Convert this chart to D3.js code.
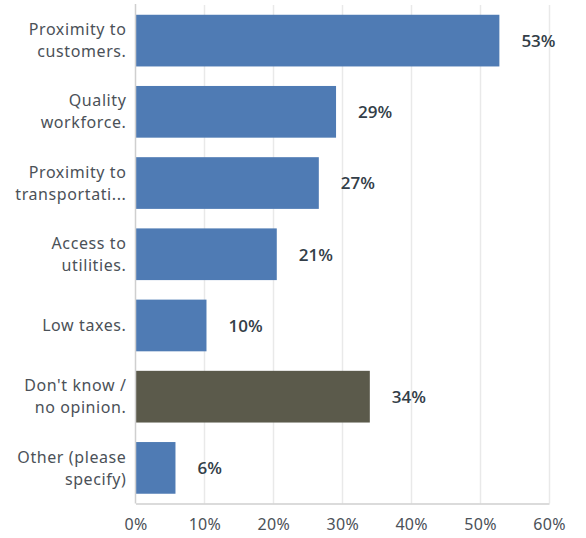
<!DOCTYPE html>
<html>
<head>
<meta charset="utf-8">
<script src="https://cdn.jsdelivr.net/npm/d3@7"></script>
<style>
  body { margin: 0; background: #fff; }
  svg { display: block; }
  .cat { font-family: "Noto Sans", sans-serif; font-size: 16px; letter-spacing: 0.6px; fill: #4b5158; }
  .val { font-family: "Open Sans", sans-serif; font-size: 17px; font-weight: 600; fill: #333e48; }
  .x.axis text { font-family: "Noto Sans", sans-serif; font-size: 16px; letter-spacing: 0.3px; fill: #4b5158; }
</style>
</head>
<body>
<svg class="chart"></svg>
<script>
// answer choices, already wrapped the way the survey tool shows them
var categoryLines = [
	["Proximity to", "customers."],
	["Quality", "workforce."],
	["Proximity to", "transportati..."],
	["Access to", "utilities."],
	["Low taxes."],
	["Don't know /", "no opinion."],
	["Other (please", "specify)"]
];
// percent of respondents
var values = [52.8, 29.1, 26.6, 20.5, 10.3, 34.0, 5.8];
var highlighted = [false, false, false, false, false, true, false];
var xTicks = [0, 10, 20, 30, 40, 50, 60];

var width = 586, height = 538;
var x0 = 135.5, x1 = 549, y0 = 5, y1 = 503.5;

var chart = d3.select('.chart')
	.attr('width', width)
	.attr('height', height);

var x = d3.scaleLinear()
	.domain([0, 60])
	.range([x0, x1]);

var y = d3.scaleBand()
	.domain(d3.range(values.length))
	.range([y0, y1])
	.paddingInner(0.274)
	.paddingOuter(0.137);

// vertical grid
chart.append('g')
	.attr('class', 'grid')
	.selectAll('line')
	.data(xTicks.slice(1))
	.enter().append('line')
	.attr('x1', function(d){ return Math.round(x(d)) + 0.5 })
	.attr('x2', function(d){ return Math.round(x(d)) + 0.5 })
	.attr('y1', y0)
	.attr('y2', y1)
	.attr('stroke', '#e9e9e9')
	.attr('stroke-width', 1.5);

// bars
chart.append('g')
	.selectAll('rect')
	.data(values)
	.enter().append('rect')
	.attr('x', x(0))
	.attr('y', function(d, i){ return y(i) })
	.attr('width', function(d){ return x(d) - x(0) })
	.attr('height', y.bandwidth())
	.attr('fill', function(d, i){ return highlighted[i] ? '#5b5a4b' : '#4f7bb4' });

// left axis line
chart.append('line')
	.attr('x1', x0).attr('x2', x0)
	.attr('y1', y0 - 1).attr('y2', y1)
	.attr('stroke', '#cfcfcf')
	.attr('stroke-width', 1.5);

// x axis
var xAxis = d3.axisBottom(x)
	.tickValues(xTicks)
	.tickSize(0)
	.tickPadding(15)
	.tickFormat(function(d){ return d + '%' });

var gx = chart.append('g')
	.attr('class', 'x axis')
	.attr('transform', 'translate(0,' + y1 + ')')
	.call(xAxis);
gx.select('.domain').attr('stroke', '#cfcfcf').attr('stroke-width', 1.5);

// category labels
var cats = chart.append('g')
	.selectAll('text')
	.data(categoryLines)
	.enter().append('text')
	.attr('class', 'cat')
	.attr('text-anchor', 'end')
	.attr('transform', function(d, i){ return 'translate(' + (x0 - 9) + ',' + (y(i) + y.bandwidth() / 2) + ')' });

cats.selectAll('tspan')
	.data(function(d){ return d })
	.enter().append('tspan')
	.attr('x', 0)
	.attr('y', function(d, j, nodes){
		var n = nodes.length;
		return (j - (n - 1) / 2) * 22;
	})
	.attr('dy', '0.35em')
	.text(function(d){ return d });

// value labels
chart.append('g')
	.selectAll('text')
	.data(values)
	.enter().append('text')
	.attr('class', 'val')
	.attr('x', function(d){ return x(d) + 22 })
	.attr('y', function(d, i){ return y(i) + y.bandwidth() / 2 })
	.attr('dy', '0.38em')
	.text(function(d){ return Math.round(d) + '%' });
</script>
</body>
</html>
